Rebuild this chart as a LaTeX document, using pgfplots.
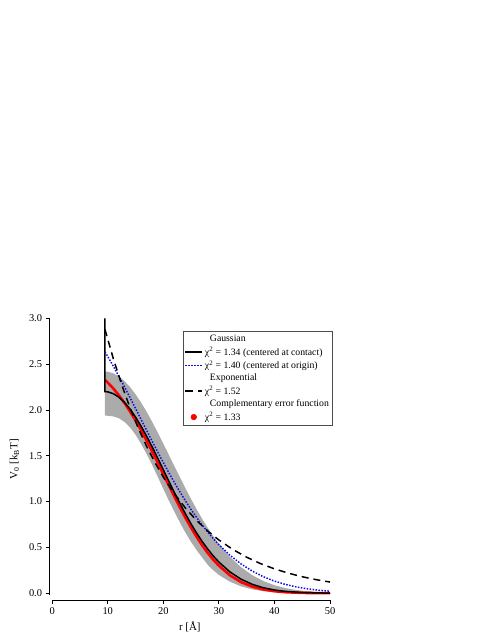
\documentclass[border=0pt]{standalone}
\usepackage{fontspec}
\setmainfont{Liberation Serif}
\usepackage{pgfplots}
\pgfplotsset{compat=1.18}
\definecolor{bandgray}{rgb}{0.67,0.67,0.67}
\definecolor{dotblue}{rgb}{0.05,0.05,0.9}
\begin{document}
\begin{tikzpicture}
\path (0,0) rectangle (491bp,635bp);
\begin{axis}[
  at={(49.7bp,33.3bp)}, anchor=south west,
  scale only axis, width=281.3bp, height=282.4bp,
  xmin=-0.47, xmax=50, ymin=-0.073, ymax=3.0,
  axis lines=left,
  axis line style={-, line width=0.8pt},
  x axis line style={shorten <=2.6bp},
  y axis line style={shorten <=5bp},
  tick align=outside, major tick length=4bp,
  tick style={line width=0.8pt, black},
  xtick={0,10,20,30,40,50},
  ytick={0,0.5,1,1.5,2,2.5,3},
  yticklabel style={/pgf/number format/.cd, fixed, fixed zerofill, precision=1},
  /pgf/number format/assume math mode=true,
  tick label style={font=\fontsize{10.5}{12}\selectfont},
  label style={font=\fontsize{11}{13}\selectfont},
  xlabel={r [Å]},
  ylabel={V\textsubscript{0} [k\textsubscript{B}T]},
  ylabel shift=3bp,
  legend style={at={(0.475,0.954)}, anchor=north west, draw=black!70,
    line width=0.6pt, font=\fontsize{9.8}{11}\selectfont, inner sep=1.5pt},
  legend cell align=left,
]
% confidence band
\addplot[fill=bandgray, draw=none, forget plot] coordinates {
(9.5,2.42) (10,2.418) (11,2.40) (12,2.367) (13,2.316) (14,2.251) (15,2.172) (16,2.081) (17,1.980) (18,1.870) (19,1.753) (20,1.632) (21,1.509) (22,1.385) (23,1.264) (24,1.143) (25,1.027) (26,0.916) (27,0.811) (28,0.713) (29,0.622) (30,0.539) (32,0.397) (34,0.284) (36,0.197) (38,0.133) (40,0.0873) (42,0.0557) (44,0.0345) (46,0.0208) (48,0.0122) (50,0.0069)
(50,0.0) (46,0.001) (43,0.004) (40,0.011) (38,0.022) (36,0.042) (34,0.075) (32,0.125) (30,0.20) (29,0.25) (28,0.31) (27,0.39) (26,0.47) (25,0.56) (24,0.66) (23,0.77) (22,0.89) (21,1.01) (20,1.14) (19,1.27) (18,1.40) (17,1.52) (16,1.63) (15,1.73) (14,1.81) (13,1.87) (12,1.91) (11,1.93) (9.5,1.94)
} -- cycle;
% complementary error function
\addplot[red, line width=2.6pt, forget plot] coordinates {
(9.5,2.329) (10,2.299) (11,2.235) (12,2.161) (13,2.078) (14,1.985) (15,1.886) (16,1.779) (17,1.665) (18,1.546) (19,1.424) (20,1.300) (21,1.176) (22,1.054) (23,0.935) (24,0.821) (25,0.714) (26,0.615) (27,0.522) (28,0.439) (29,0.365) (30,0.301) (32,0.195) (34,0.121) (36,0.072) (38,0.041) (40,0.022) (42,0.011) (45,0.0035) (48,0.001) (50,0.0006)
};
% Gaussian centred at contact
\addplot[black, line width=1.5pt, forget plot] coordinates {
(9.5,3.0) (9.5,2.2) (10,2.198) (11,2.178) (12,2.140) (13,2.083) (14,2.011) (15,1.923) (16,1.823) (17,1.713) (18,1.596) (19,1.473) (20,1.348) (21,1.222) (22,1.098) (23,0.979) (24,0.864) (25,0.756) (26,0.656) (27,0.564) (28,0.481) (29,0.406) (30,0.340) (32,0.232) (34,0.153) (36,0.097) (38,0.0595) (40,0.0352) (42,0.0201) (45,0.0081) (48,0.003) (50,0.0015)
};
% Gaussian centred at origin
\addplot[dotblue, line width=1.5pt, dash pattern=on 1.5pt off 1.5pt, forget plot] coordinates {
(9.5,2.634) (10,2.584) (11,2.478) (12,2.368) (13,2.254) (14,2.136) (15,2.017) (16,1.897) (17,1.777) (18,1.658) (19,1.541) (20,1.426) (21,1.315) (22,1.207) (23,1.105) (24,1.006) (25,0.913) (26,0.826) (27,0.743) (28,0.667) (29,0.595) (30,0.530) (32,0.414) (34,0.319) (36,0.242) (38,0.180) (40,0.132) (42,0.0956) (44,0.068) (46,0.0476) (48,0.0328) (50,0.0222)
};
% Exponential
\addplot[black, line width=1.5pt, dash pattern=on 7bp off 5bp, forget plot] coordinates {
(9.5,2.880) (11,2.561) (12.5,2.278) (14,2.026) (15.5,1.802) (17,1.603) (18.5,1.426) (20,1.268) (22,1.085) (24,0.928) (26,0.793) (28,0.679) (30,0.581) (32.5,0.478) (35,0.393) (37.5,0.323) (40,0.266) (42.5,0.219) (45,0.180) (47.5,0.148) (50,0.122)
};
% legend
\addlegendimage{empty legend}
\addlegendentry{\hspace*{5bp}Gaussian}
\addlegendimage{black, line width=1.5pt}
\addlegendentry{χ\textsuperscript{2} = 1.34 (centered at contact)}
\addlegendimage{dotblue, line width=1.5pt, dash pattern=on 1.5pt off 1.5pt}
\addlegendentry{χ\textsuperscript{2} = 1.40 (centered at origin)}
\addlegendimage{empty legend}
\addlegendentry{\hspace*{5bp}Exponential}
\addlegendimage{black, line width=1.5pt, dash pattern=on 8bp off 5bp}
\addlegendentry{χ\textsuperscript{2} = 1.52}
\addlegendimage{empty legend}
\addlegendentry{\hspace*{5bp}Complementary error function}
\addlegendimage{only marks, mark=*, mark size=2.8pt, red}
\addlegendentry{χ\textsuperscript{2} = 1.33}
\end{axis}
\end{tikzpicture}
\end{document}
